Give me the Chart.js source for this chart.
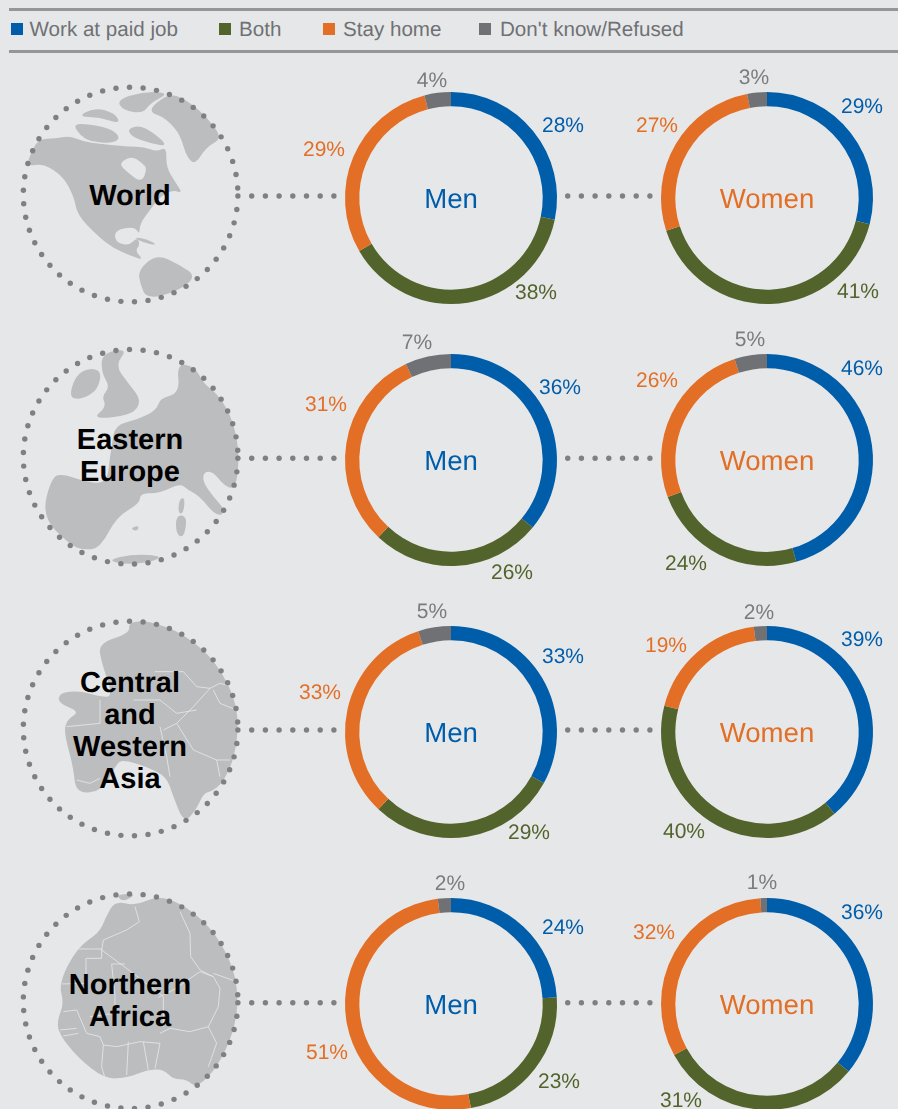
<!DOCTYPE html>
<html>
<head>
<meta charset="utf-8">
<script src="https://cdn.jsdelivr.net/npm/chart.js@4"></script>
<style>
  html, body { margin: 0; padding: 0; background: #e6e7e9; }
  #page { position: relative; width: 898px; height: 1109px; overflow: hidden; background: #e6e7e9; font-family: "Liberation Sans", Arial, sans-serif; text-rendering: geometricPrecision; }
  #page canvas { position: absolute; }
  #art { position: absolute; left: 0; top: 0; }
  .rule { position: absolute; left: 9px; right: 0; height: 3px; background: #949699; }
  .key { position: absolute; top: 23px; width: 12px; height: 12px; }
  .keytext { position: absolute; top: 18px; font-size: 20.6px; line-height: 24px; color: #6f7174; white-space: nowrap; }
  .title { position: absolute; left: 30px; width: 200px; text-align: center; font-weight: bold; font-size: 29px; line-height: 32px; color: #000; }
</style>
</head>
<body>
<div id="page">
  <svg id="art" width="898" height="1109"></svg>
  <div class="rule" style="top:8px"></div>
  <div class="rule" style="top:50px"></div>
</div>
<script>
// data
const seriesNames = ['Work at paid job', 'Both', 'Stay home', "Don't know/Refused"];
const seriesColors = ['#005daa', '#52632b', '#e36f26', '#707174'];
const labelColors = ['#005daa', '#52632b', '#e36f26', '#7a7c7f'];
const regions = ['World', 'Eastern\nEurope', 'Central\nand\nWestern\nAsia', 'Northern\nAfrica'];
const groups = ['Men', 'Women'];
const menValues = [
  [28, 38, 29, 4],
  [36, 26, 31, 7],
  [33, 29, 33, 5],
  [24, 23, 51, 2]
];
const womenValues = [
  [29, 41, 27, 3],
  [46, 24, 26, 5],
  [39, 40, 19, 2],
  [36, 31, 32, 1]
];

// layout
const rowY = [197.5, 460, 731.5, 1004.3];
const linkY = [196, 458.3, 730, 1002.7];
const groupX = [451, 766.7];
const legendX = [10.5, 219, 322.5, 479];
const legendTextX = [29.5, 239, 343, 500];
// hand placed percent labels, offset from the ring centre
const menLabelPos = [
  [[112, -72], [85, 95], [-127, -48], [-19, -117]],
  [[109, -72], [61, 113], [-125, -55], [-34, -117]],
  [[112, -75], [78, 101], [-131, -39], [-19, -120]],
  [[112, -76], [108, 78], [-124, 49], [-1, -120]]
];
const womenLabelPos = [
  [[95, -91], [91, 94], [-110, -72], [-13, -120]],
  [[95, -91], [-81, 104], [-110, -79], [-17, -120]],
  [[95, -92], [-83, 100], [-101, -86], [-8, -119]],
  [[95, -91], [-86, 97], [-113, -71], [-5, -121]]
];

const page = document.getElementById('page');
const art = document.getElementById('art');
const svgNS = 'http://www.w3.org/2000/svg';
const bgColor = '#e6e7e9';
const dotColor = '#7f8083';
const landColor = '#bcbdbf';

function svgEl(parent, tag, attrs) {
  const el = document.createElementNS(svgNS, tag);
  for (const k in attrs) el.setAttribute(k, attrs[k]);
  parent.appendChild(el);
  return el;
}

// rounds a traced polygon through the midpoints of its sides
function smooth(d) {
  const n = d.match(/[\d.]+/g).map(Number);
  const p = [];
  for (let i = 0; i < n.length; i += 2) p.push([n[i], n[i + 1]]);
  const mid = function(a, b) { return ((a[0] + b[0]) / 2) + ',' + ((a[1] + b[1]) / 2); };
  let out = 'M' + mid(p[p.length - 1], p[0]);
  p.forEach(function(pt, i) {
    out += ' Q' + pt[0] + ',' + pt[1] + ' ' + mid(pt, p[(i + 1) % p.length]);
  });
  return out + ' Z';
}

// map outlines, in 3x crop coordinates
const maps = [
  { top: 0, land: [
    'M80,500 L95,450 L118,418 L165,415 L210,408 L250,425 L300,432 L350,436 L385,440 L432,440 L470,455 L500,440 L498,500 L525,545 L548,580 L520,570 L480,590 L450,630 L420,670 L418,705 L405,680 L345,690 L345,725 L385,738 L412,712 L420,735 L405,752 L430,780 L400,770 L340,745 L290,705 L232,645 L222,590 L190,530 L130,490 Z',
    'M455,318 L510,280 L560,300 L620,350 L668,415 L620,440 L585,495 L560,470 L545,420 L530,390 L490,350 L455,340 Z',
    'M350,300 L430,275 L510,278 L450,310 L430,340 L370,332 Z',
    'M232,350 L285,322 L345,340 L362,372 L300,352 Z',
    'M220,375 L250,370 L330,385 L362,412 L340,430 L270,425 L240,405 Z',
    'M382,385 L430,375 L510,440 L450,430 L395,410 Z',
    'M415,810 L470,762 L540,795 L590,830 L530,875 L440,898 L420,850 Z',
    'M400,712 L440,716 L475,737 L430,728 Z'
  ], holes: [
    'M355,490 L395,468 L425,488 L442,505 L425,548 L385,520 Z'
  ], borders: [] },
  { top: 330, land: [
    'M205,200 L235,120 L305,115 L295,180 L240,210 Z',
    'M305,70 L385,55 L345,105 L385,160 L425,210 L398,255 L275,268 L320,230 L305,200 L330,170 L305,130 Z',
    'M410,270 L470,240 L480,205 L540,190 L530,100 L585,110 L610,160 L650,190 L690,250 L715,340 L715,430 L702,478 L670,465 L640,425 L612,425 L608,455 L640,500 L680,545 L650,560 L600,500 L565,480 L540,460 L480,490 L420,490 L420,520 L350,560 L300,655 L250,660 L210,645 L125,560 L155,440 L190,432 L240,450 L320,465 L330,380 L335,350 L345,285 Z',
    'M538,508 L555,502 L550,552 L534,548 Z',
    'M528,555 L562,558 L552,624 L528,612 Z',
    'M322,690 L400,672 L490,678 L450,698 L370,703 Z',
    'M390,596 L418,585 L412,604 Z'
  ], holes: [], borders: [] },
  { top: 600, land: [
    'M295,130 L390,100 L385,68 L430,62 L470,72 L530,92 L610,148 L660,208 L702,290 L716,370 L704,470 L672,542 L640,572 L610,580 L590,628 L552,670 L520,590 L500,530 L440,500 L370,480 L350,490 L310,572 L228,582 L220,500 L192,400 L200,360 L240,335 L175,310 L178,278 L240,272 L300,290 L340,290 L305,190 Z'
  ], holes: [], borders: [
    'M465,215 L550,215 L590,260 L630,265 L660,250 L700,260',
    'M630,265 L580,320 L530,370 L490,390',
    'M640,270 L660,310 L710,330',
    'M400,300 L480,300 L530,340 L590,330',
    'M530,370 L580,450 L650,480 L690,480',
    'M650,480 L660,530',
    'M300,300 L300,370 L200,380',
    'M230,540 L270,550 L300,535',
    'M480,380 L500,470 L510,530'
  ] },
  { top: 870, land: [
    'M345,92 L405,108 L470,78 L540,98 L630,168 L692,270 L716,370 L704,480 L652,592 L590,655 L560,628 L520,628 L490,597 L440,600 L385,622 L315,628 L232,562 L176,490 L172,450 L192,400 L176,340 L232,232 L298,188 L318,140 Z',
    'M348,73 L412,71 L368,97 Z'
  ], holes: [], borders: [
    'M405,110 L418,155 L380,180 L310,210 L305,240 L400,310 L490,380 L490,470',
    'M235,237 L305,237 L305,265 L258,265 L258,340 L185,342',
    'M335,282 L375,282 M335,282 L345,380 L345,430 L270,440',
    'M540,125 L570,190 L572,260 L600,300 L640,320 L600,305 L520,360 L475,382',
    'M640,320 L660,355 L655,410 L625,470 L570,485 L510,475 L480,490',
    'M640,310 L710,335',
    'M625,470 L650,520 L625,590',
    'M190,425 L230,420 L260,490 L300,500 L310,525 L350,530 L420,515 L480,520 L465,595',
    'M385,515 L380,615 M430,515 L445,600',
    'M310,525 L305,590 L315,625',
    'M180,480 L230,475 M190,498 L235,490'
  ] }
];

// globes with their dotted rim, links and region names
regions.forEach(function(name, r) {
  const m = maps[r];
  const g = svgEl(art, 'g', { transform: 'translate(0,' + m.top + ') scale(0.33333)' });
  m.land.forEach(function(d) { svgEl(g, 'path', { d: smooth(d), fill: landColor }); });
  m.holes.forEach(function(d) { svgEl(g, 'path', { d: smooth(d), fill: bgColor }); });
  m.borders.forEach(function(d) {
    svgEl(g, 'path', { d: d, fill: 'none', stroke: bgColor, 'stroke-width': 2.5 });
  });

  const cy = linkY[r] - 1.5;
  for (let i = 0; i < 50; i++) {
    const a = (0.8 + i * 7.26) * Math.PI / 180;
    svgEl(art, 'circle', { cx: 130.6 + 107.3 * Math.cos(a), cy: cy + 107.3 * Math.sin(a), r: 2.7, fill: dotColor });
  }
  for (let i = 1; i <= 7; i++) {
    svgEl(art, 'circle', { cx: 238 + i * 13.7, cy: linkY[r], r: 2.7, fill: dotColor });
    svgEl(art, 'circle', { cx: 554 + i * 13.7, cy: linkY[r], r: 2.7, fill: dotColor });
  }

  const lines = name.split('\n');
  const titleY = [196, 456, 731, 1001][r];
  const t = document.createElement('div');
  t.className = 'title';
  t.style.top = (titleY - lines.length * 16) + 'px';
  t.innerHTML = lines.join('<br>');
  page.appendChild(t);
});

// legend
seriesNames.forEach(function(name, i) {
  const k = document.createElement('div');
  k.className = 'key';
  k.style.left = legendX[i] + 'px';
  k.style.background = seriesColors[i];
  page.appendChild(k);
  const t = document.createElement('div');
  t.className = 'keytext';
  t.style.left = legendTextX[i] + 'px';
  t.textContent = name;
  page.appendChild(t);
});

// percent labels and the name in the middle of each ring
const ringText = {
  id: 'ringText',
  afterDraw: function(chart, args, opts) {
    const ctx = chart.ctx;
    const cx = (chart.chartArea.left + chart.chartArea.right) / 2;
    const cy = (chart.chartArea.top + chart.chartArea.bottom) / 2;
    ctx.save();
    ctx.textRendering = 'geometricPrecision';
    ctx.textAlign = 'center';
    ctx.textBaseline = 'middle';
    ctx.font = '27.6px "Liberation Sans"';
    ctx.fillStyle = opts.nameColor;
    ctx.fillText(opts.name, cx, cy + 2);
    ctx.font = '21px "Liberation Sans"';
    chart.data.datasets[0].data.forEach(function(v, i) {
      ctx.fillStyle = labelColors[i];
      ctx.fillText(v + '%', cx + opts.pos[i][0], cy + opts.pos[i][1] + 0.5);
    });
    ctx.restore();
  }
};

const boxW = 340, boxH = 284;

function addRing(x, y, values, name, nameColor, pos) {
  const canvas = document.createElement('canvas');
  canvas.width = boxW;
  canvas.height = boxH;
  canvas.style.left = (x - boxW / 2) + 'px';
  canvas.style.top = (y - boxH / 2) + 'px';
  canvas.style.width = boxW + 'px';
  canvas.style.height = boxH + 'px';
  page.appendChild(canvas);
  new Chart(canvas.getContext('2d'), {
    type: 'doughnut',
    data: {
      labels: seriesNames,
      datasets: [{
        data: values,
        backgroundColor: seriesColors,
        borderWidth: 0
      }]
    },
    options: {
      responsive: false,
      animation: false,
      cutout: '86.5%',
      layout: { padding: { left: (boxW - 212) / 2, right: (boxW - 212) / 2, top: (boxH - 212) / 2, bottom: (boxH - 212) / 2 } },
      plugins: {
        legend: { display: false },
        tooltip: { enabled: false },
        ringText: { name: name, nameColor: nameColor, pos: pos }
      }
    },
    plugins: [ringText]
  });
}

regions.forEach(function(name, r) {
  addRing(groupX[0], rowY[r], menValues[r], groups[0], seriesColors[0], menLabelPos[r]);
  addRing(groupX[1], rowY[r], womenValues[r], groups[1], seriesColors[2], womenLabelPos[r]);
});
</script>
</body>
</html>
